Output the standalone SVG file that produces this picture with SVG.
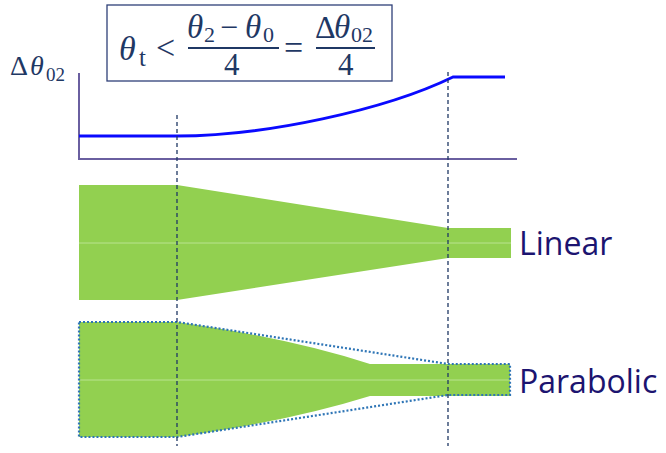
<svg xmlns="http://www.w3.org/2000/svg" width="666" height="453" viewBox="0 0 666 453">
<style>
.math{font-family:"Liberation Serif","DejaVu Serif",serif;fill:#1f3864}
.it{font-style:italic}
.lbl{font-family:"Open Sans","Liberation Sans",sans-serif;font-size:32px;fill:#1c1470}
.axis{stroke:#6a5fa0;stroke-width:2;fill:none}
.guide{stroke:#1f3864;stroke-width:1.3;stroke-dasharray:4 3;fill:none}
.fill{fill:#92d050}
.mid{stroke:#b9e38f;stroke-width:1}
.dot{fill:none;stroke:#2e75b6;stroke-width:2.2;stroke-dasharray:2 2}
</style>
<rect width="666" height="453" fill="#ffffff"/>
<g id="formula">
<rect x="107" y="5" width="285" height="76" fill="#fff" stroke="#2f4078" stroke-width="1.3"/>
<text class="math it" x="119" y="60" font-size="34">θ</text>
<text class="math" x="139" y="66" font-size="25">t</text>
<text class="math" x="156" y="59" font-size="34">&lt;</text>
<text class="math it" x="187" y="38" font-size="33">θ</text>
<text class="math" x="204" y="42" font-size="22">2</text>
<text class="math" x="220" y="38" font-size="32">−</text>
<text class="math it" x="245" y="38" font-size="33">θ</text>
<text class="math" x="263" y="42" font-size="22">0</text>
<line x1="188" y1="48" x2="279" y2="48" stroke="#1f3864" stroke-width="2"/>
<text class="math" x="224" y="75" font-size="31">4</text>
<text class="math" x="284" y="59" font-size="34">=</text>
<text class="math" x="315" y="38" font-size="32">Δ</text>
<text class="math it" x="334" y="38" font-size="33">θ</text>
<text class="math" x="351" y="42" font-size="22">02</text>
<line x1="316" y1="48" x2="375" y2="48" stroke="#1f3864" stroke-width="2"/>
<text class="math" x="338" y="75" font-size="31">4</text>
</g>
<g id="ylabel">
<text class="math" x="10" y="75" font-size="28">Δ</text>
<text class="math it" x="30" y="75" font-size="28">θ</text>
<text class="math" x="46" y="81" font-size="19">02</text>
</g>
<g id="chart">
<path class="axis" d="M79,73 V159 H517"/>
<path d="M79,136 H177 C265,136 385,110 453,77 H505" fill="none" stroke="#0a0aff" stroke-width="3"/>
</g>
<g id="linear">
<path class="fill" d="M79,185 H177 L448,228 H511 V258 H448 L177,300 H79 Z"/>
<line class="mid" x1="79" y1="243" x2="511" y2="243"/>
<text class="lbl" x="519" y="255">Linear</text>
</g>
<g id="parabolic">
<path class="fill" d="M79,322 H177 Q290,338 370,364 H510 V396 H370 Q290,421 177,437 H79 Z"/>
<line class="mid" x1="79" y1="380" x2="510" y2="380"/>
<path class="dot" d="M79,322 H177 L448,364 H510 V395 H448 L177,437 H79 Z"/>
<text class="lbl" x="519" y="393">Parabolic</text>
</g>
<g id="connectors">
<line class="guide" x1="177" y1="115" x2="177" y2="446"/>
<line class="guide" x1="448" y1="72" x2="448" y2="446" stroke="#3b5790"/>
</g>
</svg>
